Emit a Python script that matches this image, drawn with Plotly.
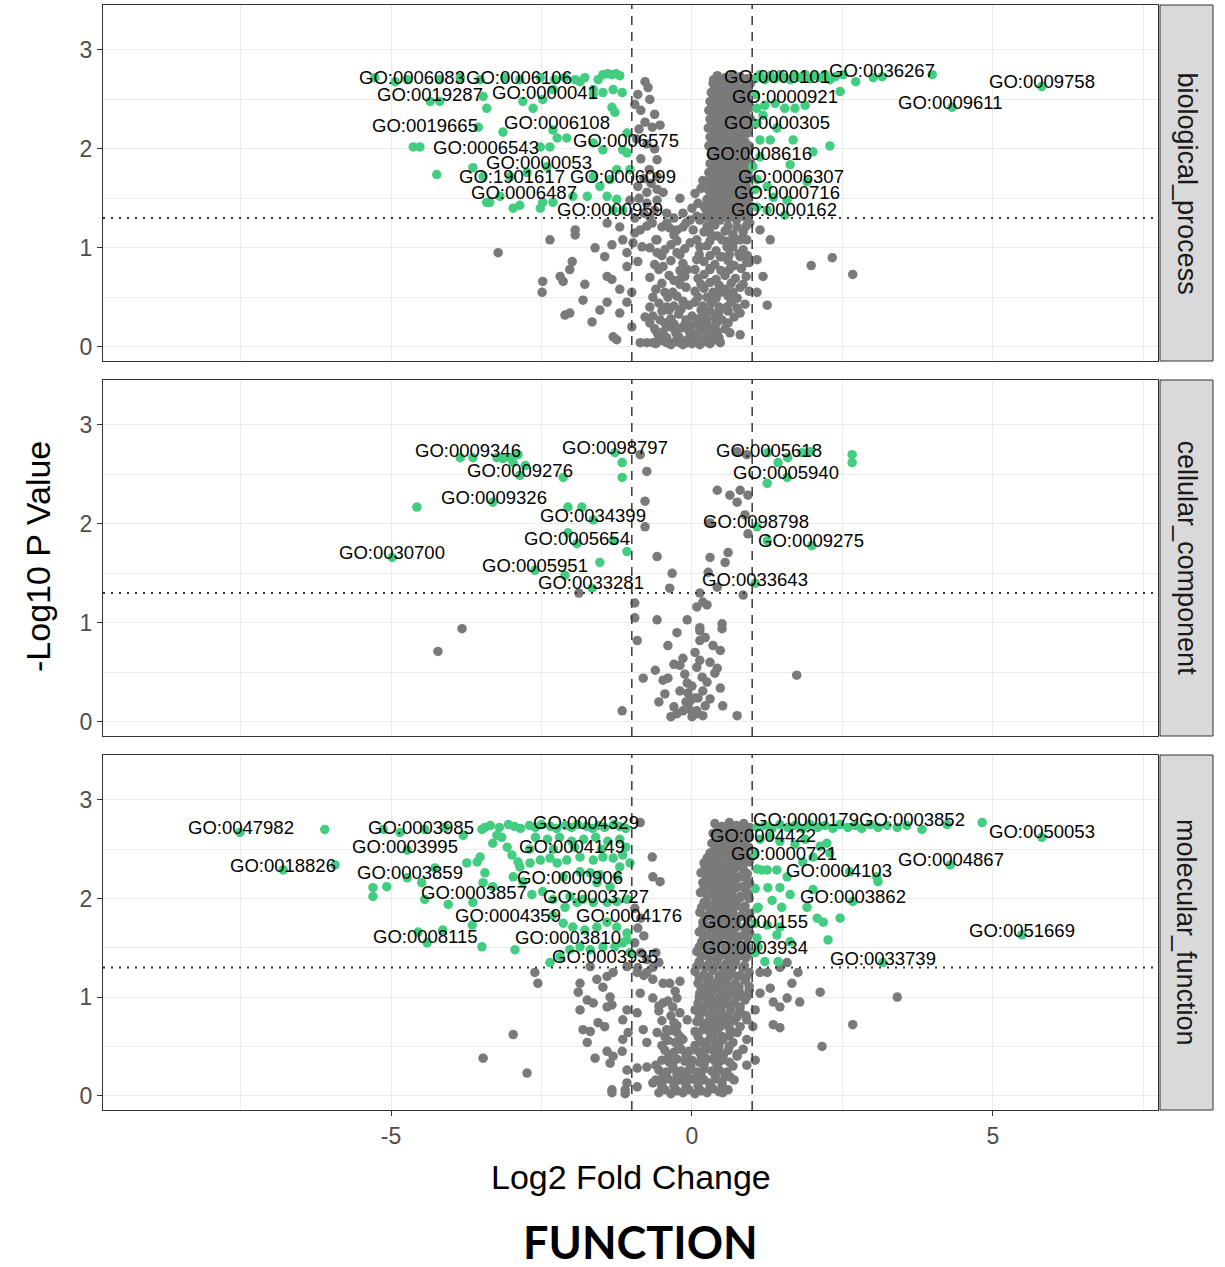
import math
import plotly.graph_objects as go

# ---------------------------------------------------------------
# GO term enrichment volcano data: (log2 fold change, -log10 p)
# ---------------------------------------------------------------

# biological_process
bp_gray = [
    (-3.22, 0.95), (-2.36, 1.08), (-1.94, 1.18), (-1.94, 1.13), (-2.48, 0.66), (-2.49, 0.55),
    (-2.19, 0.71), (-2.14, 0.66), (-2.03, 0.78), (-1.99, 0.86), (-1.78, 0.63), (-1.81, 0.47),
    (-2.11, 0.32), (-2.03, 0.34), (-1.66, 0.25), (-1.53, 0.37), (-1.41, 0.45), (-1.61, 1.00),
    (-1.45, 0.91), (-1.33, 1.03), (-1.41, 0.71), (-1.33, 0.68), (-1.20, 0.58), (-1.08, 0.45),
    (-1.20, 0.34), (-1.31, 0.10), (-1.25, 0.07), (-1.41, 1.25), (-1.20, 1.21), (-1.15, 1.08),
    (-1.08, 0.95), (-1.08, 0.81), (-0.98, 1.05), (-1.00, 0.55), (-1.00, 0.20), (-1.03, 1.48),
    (-0.78, 2.68), (-0.73, 2.62), (-0.85, 2.39), (-0.78, 2.27), (-0.66, 2.22), (-0.53, 2.24),
    (-0.58, 1.89), (-0.71, 1.79), (-0.58, 1.72), (-0.75, 1.45), (-0.58, 1.48), (-0.48, 1.56),
    (-0.70, 1.31), (-0.86, 1.18), (-0.42, 1.25), (-0.25, 1.18), (-0.15, 1.21), (-0.03, 1.28),
    (-0.75, 1.56), (-0.58, 1.59), (-0.66, 1.25), (-0.50, 1.21), (-0.37, 1.20), (-0.42, 1.35),
    (-0.90, 1.62), (-0.80, 1.70), (-0.92, 2.10), (-0.95, 2.45),
    (-0.90, 2.55), (-0.70, 2.50), (-0.62, 2.35), (-0.88, 2.20), (-0.75, 2.05), (-0.62, 2.00),
    (-0.85, 1.90), (-0.68, 1.65), (-0.88, 1.50), (-0.62, 1.38), (-0.80, 1.35), (-0.95, 1.30),
    (-0.30, 1.30), (-0.15, 1.35), (0.00, 1.40), (0.10, 1.45), (-0.20, 1.50), (0.05, 1.55),
    (0.15, 1.60), (-0.10, 1.25), (0.20, 1.42), (0.18, 1.68), (0.08, 1.32),
    (-0.86, 0.04), (-0.75, 0.04), (-0.65, 0.04), (-0.78, 0.30), (-0.70, 0.40), (-0.83, 1.01),
    (-0.58, 1.08), (-0.58, 0.95), (-0.48, 0.81), (-0.25, 0.95), (-0.20, 0.68), (-0.32, 0.55),
    (-0.42, 0.40), (-0.53, 0.27), (-0.58, 0.14), (-0.42, 0.04), (-0.20, 0.04), (-0.08, 0.07),
    (0.02, 0.10), (0.13, 0.20), (0.25, 0.27), (0.35, 0.20), (0.47, 0.04), (0.63, 0.14),
    (0.80, 0.12), (0.58, 0.40), (0.75, 0.39), (0.47, 0.55), (0.68, 0.55), (1.08, 0.55),
    (1.25, 0.42), (1.18, 0.71), (1.08, 0.88), (0.91, 0.85), (0.80, 0.91), (0.75, 1.08),
    (0.91, 1.08), (1.30, 1.08), (1.13, 1.18), (0.96, 1.25), (0.30, 1.15), (0.47, 0.91),
    (0.30, 0.78), (0.08, 0.88), (-0.08, 0.78), (-0.03, 1.05), (0.13, 1.01), (0.02, 1.18),
    (0.13, 1.28), (0.35, 1.35), (0.35, 1.52), (0.30, 1.62), (0.35, 1.69), (0.51, 1.45),
    (0.47, 1.28), (0.58, 1.35), (0.58, 1.01), (1.98, 0.82), (2.33, 0.90), (2.67, 0.73),
    (-0.60, 0.03), (-0.50, 0.06), (-0.35, 0.02), (-0.28, 0.05), (-0.15, 0.02), (-0.08, 0.04),
    (0.00, 0.03), (0.07, 0.06), (0.13, 0.02), (0.22, 0.05), (0.30, 0.03), (0.38, 0.07),
    (-0.55, 0.10), (-0.42, 0.09), (-0.22, 0.10), (-0.02, 0.09), (0.10, 0.10), (0.25, 0.11),
    (0.45, 0.09),
    (-0.62, 0.18), (-0.48, 0.15), (-0.36, 0.20), (-0.27, 0.14), (-0.17, 0.19), (-0.05, 0.16),
    (0.06, 0.13), (0.18, 0.17), (0.30, 0.12), (0.42, 0.15), (0.55, 0.18),
    (-0.70, 0.24), (-0.45, 0.24), (-0.30, 0.23), (-0.12, 0.22), (0.00, 0.22), (0.12, 0.25),
    (0.25, 0.21), (0.40, 0.23), (0.60, 0.24),
    (-0.65, 0.31), (-0.35, 0.28), (-0.22, 0.33), (-0.10, 0.27), (0.00, 0.31), (0.10, 0.28),
    (0.20, 0.34), (0.38, 0.30), (0.50, 0.27), (0.70, 0.30),
    (-0.50, 0.36), (-0.38, 0.37), (-0.18, 0.38), (0.15, 0.37), (0.30, 0.36), (0.45, 0.35),
    (0.60, 0.36), (0.80, 0.34),
    (-0.55, 0.44), (-0.30, 0.41), (-0.15, 0.46), (-0.05, 0.42), (0.05, 0.45), (0.18, 0.41),
    (0.32, 0.44), (0.45, 0.40), (0.65, 0.45), (0.88, 0.43),
    (-0.65, 0.50), (-0.40, 0.50), (-0.25, 0.51), (0.10, 0.50), (0.25, 0.50), (0.40, 0.49),
    (0.60, 0.51), (0.75, 0.49),
    (-0.60, 0.58), (-0.45, 0.55), (-0.10, 0.60), (0.05, 0.56), (0.20, 0.59), (0.35, 0.55),
    (0.55, 0.58), (0.80, 0.60), (0.95, 0.56),
    (-0.50, 0.64), (-0.20, 0.63), (0.15, 0.63), (0.30, 0.65), (0.45, 0.62), (0.65, 0.64),
    (0.85, 0.63),
    (-0.70, 0.70), (-0.38, 0.72), (-0.30, 0.67), (-0.12, 0.71), (0.10, 0.69), (0.20, 0.73),
    (0.40, 0.68), (0.55, 0.72), (0.72, 0.69), (0.90, 0.71),
    (-0.55, 0.78), (-0.20, 0.77), (0.05, 0.78), (0.30, 0.79), (0.48, 0.77), (0.62, 0.78),
    (0.82, 0.79),
    (-0.90, 0.86), (-0.62, 0.83), (-0.35, 0.87), (-0.15, 0.84), (0.20, 0.86), (0.38, 0.83),
    (0.60, 0.87), (0.70, 0.82), (0.95, 0.85),
    (-0.50, 0.92), (-0.20, 0.93), (0.12, 0.93), (0.30, 0.92), (0.50, 0.91), (0.62, 0.93),
    (0.78, 0.94), (0.92, 0.92),
    (-0.70, 1.00), (-0.45, 0.98), (-0.35, 1.03), (-0.12, 0.99), (0.25, 1.02), (0.40, 0.97),
    (0.68, 1.01), (0.85, 0.98),
    (-0.60, 1.08), (-0.25, 1.07), (0.08, 1.08), (0.30, 1.07), (0.50, 1.08), (0.62, 1.07),
    (0.80, 1.08),
    (-0.95, 1.15), (-0.30, 1.13), (0.20, 1.16), (0.42, 1.12), (0.55, 1.17), (0.68, 1.14),
    (0.85, 1.16),
    (-0.75, 1.22), (0.25, 1.22), (0.38, 1.23), (0.60, 1.22), (0.75, 1.21), (0.90, 1.22),
    (0.42, 2.74), (0.55, 2.72), (0.68, 2.75), (0.80, 2.73), (0.92, 2.71),
    (0.36, 2.70), (0.49, 2.69), (0.62, 2.70), (0.74, 2.69), (0.86, 2.70), (0.97, 2.71),
    (0.35, 2.66), (0.48, 2.64), (0.60, 2.67), (0.72, 2.65), (0.85, 2.62), (0.97, 2.66),
    (0.38, 2.61), (0.50, 2.60), (0.63, 2.61), (0.77, 2.60), (0.90, 2.61),
    (0.32, 2.57), (0.45, 2.55), (0.56, 2.58), (0.70, 2.56), (0.83, 2.54), (0.95, 2.57),
    (0.36, 2.52), (0.50, 2.51), (0.62, 2.52), (0.76, 2.51), (0.88, 2.52),
    (0.30, 2.48), (0.42, 2.46), (0.55, 2.49), (0.66, 2.47), (0.80, 2.45), (0.93, 2.48),
    (0.34, 2.43), (0.46, 2.42), (0.60, 2.43), (0.72, 2.42), (0.85, 2.43), (0.97, 2.42),
    (0.28, 2.39), (0.40, 2.37), (0.52, 2.40), (0.64, 2.38), (0.77, 2.36), (0.90, 2.39),
    (0.36, 2.34), (0.50, 2.33), (0.63, 2.34), (0.77, 2.33), (0.90, 2.34),
    (0.30, 2.30), (0.43, 2.28), (0.56, 2.31), (0.70, 2.29), (0.84, 2.27), (0.97, 2.30),
    (0.33, 2.25), (0.46, 2.24), (0.58, 2.25), (0.72, 2.24), (0.84, 2.25), (0.96, 2.24),
    (0.27, 2.21), (0.40, 2.19), (0.52, 2.22), (0.65, 2.20), (0.78, 2.18), (0.90, 2.21),
    (0.37, 2.16), (0.51, 2.15), (0.65, 2.16), (0.79, 2.15), (0.92, 2.16),
    (0.30, 2.12), (0.45, 2.10), (0.58, 2.13), (0.72, 2.11), (0.86, 2.09),
    (0.35, 2.07), (0.48, 2.06), (0.62, 2.07), (0.74, 2.06), (0.88, 2.07),
    (0.28, 2.03), (0.42, 2.01), (0.55, 2.04), (0.68, 2.02), (0.80, 2.00), (0.95, 2.03),
    (0.38, 1.98), (0.52, 1.97), (0.67, 1.98), (0.80, 1.97), (0.94, 1.98),
    (0.32, 1.94), (0.46, 1.92), (0.60, 1.95), (0.74, 1.93), (0.88, 1.91),
    (0.36, 1.89), (0.48, 1.88), (0.62, 1.89), (0.77, 1.88), (0.91, 1.89),
    (0.30, 1.85), (0.42, 1.83), (0.55, 1.86), (0.70, 1.84), (0.84, 1.82), (0.98, 1.85),
    (0.34, 1.80), (0.47, 1.79), (0.60, 1.80), (0.74, 1.79), (0.87, 1.80),
    (0.28, 1.76), (0.40, 1.74), (0.54, 1.77), (0.67, 1.75), (0.80, 1.73), (0.93, 1.76),
    (0.31, 1.71), (0.44, 1.70), (0.57, 1.71), (0.70, 1.70), (0.84, 1.71), (0.96, 1.70),
    (0.25, 1.67), (0.38, 1.65), (0.50, 1.68), (0.63, 1.66), (0.77, 1.64), (0.90, 1.67),
    (0.35, 1.62), (0.48, 1.61), (0.62, 1.62), (0.77, 1.61), (0.90, 1.62),
    (0.28, 1.58), (0.42, 1.56), (0.55, 1.59), (0.70, 1.57), (0.85, 1.55), (0.97, 1.58),
    (0.32, 1.53), (0.46, 1.52), (0.59, 1.53), (0.73, 1.52), (0.86, 1.53),
    (0.25, 1.49), (0.40, 1.47), (0.52, 1.50), (0.66, 1.48), (0.80, 1.46), (0.92, 1.49),
    (0.29, 1.44), (0.43, 1.43), (0.57, 1.44), (0.71, 1.43), (0.84, 1.44), (0.96, 1.43),
    (0.22, 1.40), (0.36, 1.38), (0.50, 1.41), (0.64, 1.39), (0.78, 1.37), (0.90, 1.40),
    (0.27, 1.35), (0.40, 1.34), (0.54, 1.35), (0.67, 1.34), (0.81, 1.35), (0.94, 1.34),
    (0.20, 1.31), (0.33, 1.29), (0.47, 1.32), (0.60, 1.30), (0.74, 1.28), (0.88, 1.31),
]
bp_green = [
    (-1.48, 2.75), (-1.40, 2.76), (-1.33, 2.75), (-1.26, 2.76), (-1.20, 2.74), (-1.56, 2.70),
    (-1.78, 2.72), (-1.94, 2.70), (-2.11, 2.72), (-2.28, 2.70), (-2.52, 2.72), (-2.86, 2.70),
    (-3.11, 2.72), (-3.52, 2.70), (-3.85, 2.72), (-4.19, 2.70), (-4.73, 2.70), (-4.93, 2.68),
    (-5.27, 2.72), (-4.35, 2.48), (-4.19, 2.48), (-3.47, 2.53), (-3.41, 2.41), (-2.81, 2.48),
    (-2.64, 2.41), (-2.48, 2.50), (-2.31, 2.60), (-1.86, 2.68), (-1.64, 2.60), (-1.64, 2.55),
    (-1.48, 2.57), (-1.31, 2.60), (-1.16, 2.57), (-1.33, 2.42), (-1.28, 2.37),
    (-2.31, 2.19), (-2.24, 2.11), (-2.08, 2.11), (-3.14, 2.17), (-3.55, 2.22), (-4.63, 2.02),
    (-4.52, 2.02), (-4.24, 1.74), (-2.52, 2.02), (-2.36, 2.02), (-1.64, 2.06), (-1.48, 1.99),
    (-1.08, 2.16), (-1.15, 1.99), (-1.08, 1.96),
    (-3.64, 1.81), (-3.47, 1.72), (-3.02, 1.72), (-2.74, 1.76), (-2.41, 1.82), (-1.64, 1.72),
    (-1.53, 1.62), (-1.36, 1.69), (-1.25, 1.79), (-1.03, 1.79),
    (-3.41, 1.46), (-2.97, 1.40), (-2.86, 1.43), (-2.52, 1.40), (-2.48, 1.46), (-2.31, 1.46),
    (-1.74, 1.52), (-1.98, 1.52), (-1.41, 1.52), (-1.25, 1.49), (-1.15, 1.38), (-1.31, 1.38),
    (-3.19, 1.52), (-3.36, 1.46),
    (1.08, 2.72), (1.13, 2.75), (1.21, 2.70), (1.30, 2.74), (1.38, 2.71), (1.46, 2.75),
    (1.54, 2.72), (1.63, 2.70), (1.71, 2.74), (1.79, 2.72), (1.88, 2.75), (1.96, 2.71),
    (2.04, 2.74), (2.13, 2.72), (2.21, 2.75), (2.29, 2.70), (2.38, 2.73), (2.46, 2.58),
    (2.51, 2.75), (2.72, 2.68), (3.01, 2.72), (3.16, 2.73), (3.99, 2.75), (5.81, 2.63),
    (4.32, 2.42), (1.08, 2.41), (1.21, 2.44), (1.38, 2.46), (1.54, 2.41), (1.71, 2.41),
    (1.88, 2.44), (1.41, 2.21), (1.30, 2.09), (1.13, 2.09), (1.68, 2.09), (2.01, 1.97),
    (2.29, 2.03), (1.63, 1.84), (1.91, 1.67), (1.25, 1.62), (1.35, 1.51), (1.58, 1.48),
    (1.08, 1.41), (1.25, 1.38), (1.54, 1.33), (1.08, 1.69), (1.13, 1.92), (1.01, 1.82),
    (1.18, 2.34), (1.08, 2.26), (1.05, 2.55), (1.05, 1.59),
]

# cellular_component
cc_gray = [
    (-0.86, 2.70), (-0.75, 2.53), (-0.78, 2.23), (-0.78, 1.97), (-0.58, 1.67), (-0.33, 1.50),
    (-0.37, 1.35), (-1.88, 1.30), (-3.82, 0.94), (-4.22, 0.71), (-0.95, 1.20), (-0.95, 1.05),
    (-0.58, 1.03), (-0.08, 1.03), (-0.25, 0.90), (-0.40, 0.77), (-0.91, 0.82), (-0.20, 0.57),
    (-0.61, 0.52), (-0.81, 0.44), (-0.48, 0.42), (-0.40, 0.44), (-0.45, 0.28), (-0.08, 0.39),
    (0.08, 0.55), (-0.07, 0.29), (-0.03, 0.21), (-1.16, 0.11), (-0.25, 0.08), (-0.15, 0.11),
    (0.13, 0.95), (0.13, 0.82), (0.10, 0.24), (0.08, 0.11), (0.18, 1.21),
    (0.75, 2.73), (0.91, 2.70), (0.42, 2.34), (0.63, 2.29), (0.80, 2.34), (0.75, 2.22),
    (0.93, 2.29), (0.88, 2.09), (0.93, 1.90), (0.30, 2.01), (0.60, 1.71), (0.30, 1.66),
    (0.55, 1.61), (0.27, 1.51), (0.42, 1.36), (0.85, 1.28), (0.13, 1.30), (0.25, 1.18),
    (0.08, 1.16), (0.50, 0.99), (0.50, 0.94), (0.13, 0.92), (0.22, 0.85), (0.35, 0.77),
    (0.47, 0.72), (0.13, 0.62), (0.42, 0.54), (0.38, 0.49), (0.17, 0.45), (0.47, 0.34),
    (0.18, 0.31), (0.30, 0.23), (0.51, 0.16), (0.75, 0.06), (1.74, 0.47), (0.05, 0.24),
    (0.08, 0.08), (0.18, 0.06), (-0.30, 0.15), (-0.10, 0.20), (0.00, 0.36), (-0.20, 0.31),
    (0.22, 0.16), (-0.35, 0.05), (0.00, 0.05), (0.25, 0.40), (-0.15, 0.64), (0.05, 0.70),
    (-0.55, 0.20), (-0.30, 0.58), (-0.12, 0.48), (0.30, 0.60), (-0.05, 0.13),
]
cc_green = [
    (-3.85, 2.67), (-3.64, 2.67), (-3.24, 2.67), (-3.14, 2.66), (-3.02, 2.67), (-2.89, 2.70),
    (-2.97, 2.62), (-2.77, 2.59), (-2.86, 2.49), (-2.14, 2.47), (-1.28, 2.72), (-1.16, 2.62),
    (-1.16, 2.47), (-4.57, 2.17), (-3.31, 2.22), (-2.06, 2.17), (-1.83, 2.17), (-1.64, 2.04),
    (-2.06, 1.91), (-1.91, 1.80), (-1.31, 1.83), (-1.08, 1.72), (-1.53, 1.61), (-4.98, 1.66),
    (-2.61, 1.53), (-2.11, 1.48), (-1.66, 1.35),
    (1.26, 2.72), (1.43, 2.62), (1.59, 2.67), (1.83, 2.72), (1.96, 2.73), (1.58, 2.47),
    (1.25, 2.41), (2.66, 2.70), (2.66, 2.62), (1.08, 1.97), (1.25, 1.83), (1.99, 1.78),
    (1.05, 1.40),
]

# molecular_function
mf_gray = [
    (-2.61, 1.25), (-2.56, 1.14), (-1.89, 1.05), (-1.86, 0.87), (-1.74, 0.97), (-1.64, 0.94),
    (-1.56, 0.74), (-1.81, 0.67), (-1.69, 0.65), (-1.45, 0.70), (-1.74, 0.54), (-1.61, 0.38),
    (-2.97, 0.62), (-3.47, 0.38), (-2.74, 0.23), (-1.33, 0.06), (-1.33, 0.03), (-1.11, 0.06),
    (-1.11, 0.02), (-1.08, 0.13), (-1.41, 0.45), (-1.31, 0.40), (-1.16, 0.45), (-1.36, 0.33),
    (-1.08, 0.26), (-0.91, 0.28), (-0.75, 0.29), (-0.91, 0.09), (-0.65, 0.13), (-1.86, 1.14),
    (-1.58, 1.18), (-1.41, 1.21), (-1.31, 1.25), (-1.08, 1.31), (-1.69, 1.31), (-1.48, 1.10),
    (-1.36, 1.00), (-1.41, 0.90), (-1.33, 0.92), (-1.15, 0.77), (-1.08, 0.87), (-1.15, 0.57),
    (-1.06, 0.64), (-0.91, 0.84), (-0.86, 1.04), (-0.91, 1.25), (-0.75, 1.25), (-0.65, 1.18),
    (-0.48, 1.14), (-0.37, 1.14), (-0.81, 0.67), (-0.75, 0.54), (-0.58, 0.64), (-0.42, 0.67),
    (-0.25, 0.64), (-0.20, 0.60), (-0.08, 0.77), (-0.48, 0.94), (-0.32, 0.90), (-0.25, 0.99),
    (-0.65, 0.99), (0.13, 1.04), (0.13, 0.84), (0.08, 0.75), (0.30, 0.80), (0.47, 0.70),
    (0.63, 0.67), (0.75, 0.64), (0.91, 0.57), (0.85, 0.47), (0.68, 0.54), (0.75, 0.40),
    (0.63, 0.19), (0.51, 0.03), (0.91, 0.31), (1.05, 0.36), (1.01, 0.70), (1.05, 0.87),
    (0.91, 0.77), (1.13, 1.04), (1.30, 1.09), (1.25, 1.25), (1.46, 1.30), (1.58, 1.35),
    (1.76, 1.25), (1.66, 1.14), (1.79, 0.95), (1.58, 0.99), (1.35, 0.95), (1.46, 0.90),
    (1.35, 0.72), (1.46, 0.69), (2.13, 1.05), (2.67, 0.72), (2.16, 0.50), (1.13, 1.25),
    (3.41, 1.00),
    (-0.86, 2.77), (-0.66, 2.42), (-0.65, 2.22), (-0.53, 2.17), (-0.95, 1.90), (-0.85, 1.80),
    (-0.90, 1.70), (-0.80, 1.62), (-0.95, 1.55), (-0.85, 1.45), (-0.75, 1.38), (-0.90, 1.30),
    (-0.80, 1.22), (-0.65, 1.30), (-0.60, 1.45), (-0.55, 1.35),
    (-0.55, 0.03), (-0.45, 0.06), (-0.35, 0.02), (-0.25, 0.05), (-0.15, 0.03), (-0.05, 0.06),
    (0.05, 0.02), (0.15, 0.05), (0.25, 0.03), (0.35, 0.07), (0.45, 0.04), (0.60, 0.06),
    (-0.50, 0.09), (-0.30, 0.10), (-0.10, 0.09), (0.10, 0.10), (0.30, 0.09), (0.50, 0.10),
    (-0.60, 0.16), (-0.50, 0.13), (-0.40, 0.17), (-0.30, 0.14), (-0.20, 0.16), (-0.10, 0.13),
    (0.00, 0.17), (0.10, 0.14), (0.20, 0.16), (0.30, 0.13), (0.40, 0.17), (0.50, 0.14),
    (0.70, 0.16),
    (-0.48, 0.21), (-0.25, 0.20), (-0.12, 0.21), (0.15, 0.20), (0.38, 0.21), (0.55, 0.20),
    (-0.55, 0.26), (-0.42, 0.24), (-0.30, 0.27), (-0.18, 0.25), (-0.05, 0.26), (0.08, 0.24),
    (0.20, 0.27), (0.33, 0.25), (0.45, 0.26), (0.58, 0.24),
    (-0.60, 0.31), (-0.32, 0.30), (-0.02, 0.30), (0.20, 0.31), (0.42, 0.30), (0.68, 0.30),
    (-0.50, 0.36), (-0.38, 0.34), (-0.25, 0.37), (-0.12, 0.35), (0.00, 0.36), (0.12, 0.34),
    (0.25, 0.37), (0.38, 0.35), (0.50, 0.36), (0.62, 0.34),
    (-0.38, 0.41), (-0.10, 0.40), (0.15, 0.41), (0.38, 0.40), (0.52, 0.41), (0.75, 0.42),
    (-0.45, 0.46), (-0.30, 0.44), (-0.18, 0.47), (-0.05, 0.45), (0.08, 0.46), (0.20, 0.44),
    (0.32, 0.47), (0.45, 0.45), (0.60, 0.46),
    (-0.50, 0.51), (-0.22, 0.50), (0.05, 0.51), (0.22, 0.50), (0.45, 0.51), (0.62, 0.50),
    (-0.40, 0.56), (-0.28, 0.54), (-0.15, 0.57), (0.15, 0.55), (0.28, 0.56), (0.40, 0.54),
    (0.52, 0.57),
    (-0.45, 0.60), (0.10, 0.60), (0.35, 0.61), (0.50, 0.60), (0.62, 0.61),
    (-0.35, 0.66), (0.05, 0.65), (0.18, 0.67), (0.30, 0.64), (0.42, 0.66),
    (-0.25, 0.71), (0.20, 0.70), (0.35, 0.71), (0.60, 0.71), (0.80, 0.70),
    (-0.50, 0.76), (-0.30, 0.74), (0.12, 0.76), (0.25, 0.74), (0.40, 0.77), (0.55, 0.75),
    (0.70, 0.76),
    (-0.35, 0.81), (0.12, 0.80), (0.30, 0.81), (0.45, 0.80), (0.60, 0.81), (0.75, 0.80),
    (0.90, 0.81),
    (-0.55, 0.86), (-0.20, 0.84), (0.05, 0.87), (0.20, 0.85), (0.35, 0.86), (0.50, 0.84),
    (0.65, 0.87), (0.80, 0.85),
    (-0.55, 0.91), (0.18, 0.90), (0.32, 0.91), (0.48, 0.90), (0.62, 0.91), (0.80, 0.90),
    (-0.40, 0.96), (0.10, 0.94), (0.25, 0.97), (0.40, 0.95), (0.55, 0.96), (0.70, 0.94),
    (0.88, 0.97),
    (0.12, 1.00), (0.30, 1.01), (0.45, 1.00), (0.60, 1.01), (0.75, 1.00), (0.92, 1.01),
    (-0.28, 1.06), (0.20, 1.04), (0.35, 1.07), (0.50, 1.05), (0.65, 1.06), (0.80, 1.04),
    (0.95, 1.07),
    (0.15, 1.10), (0.28, 1.11), (0.45, 1.10), (0.60, 1.11), (0.78, 1.10), (0.95, 1.11),
    (-0.20, 1.16), (0.10, 1.14), (0.25, 1.17), (0.40, 1.15), (0.55, 1.16), (0.72, 1.14),
    (0.88, 1.17),
    (0.12, 1.20), (0.28, 1.20), (0.45, 1.21), (0.60, 1.20), (0.75, 1.21), (0.90, 1.20),
    (0.38, 2.76), (0.50, 2.73), (0.62, 2.77), (0.74, 2.74), (0.86, 2.76), (0.96, 2.72),
    (0.44, 2.71), (0.56, 2.70), (0.68, 2.71), (0.80, 2.70), (0.92, 2.69),
    (0.35, 2.66), (0.47, 2.63), (0.60, 2.67), (0.72, 2.64), (0.84, 2.66), (0.95, 2.62),
    (0.41, 2.61), (0.53, 2.60), (0.66, 2.61), (0.78, 2.60), (0.90, 2.59),
    (0.33, 2.56), (0.45, 2.54), (0.57, 2.57), (0.70, 2.53), (0.82, 2.56), (0.94, 2.52),
    (0.39, 2.51), (0.51, 2.50), (0.63, 2.51), (0.76, 2.50), (0.88, 2.49),
    (0.30, 2.46), (0.42, 2.43), (0.55, 2.47), (0.68, 2.44), (0.80, 2.46), (0.92, 2.42),
    (0.25, 2.41), (0.36, 2.40), (0.49, 2.41), (0.62, 2.40), (0.74, 2.41), (0.86, 2.40),
    (0.97, 2.41),
    (0.20, 2.36), (0.32, 2.34), (0.45, 2.37), (0.58, 2.33), (0.70, 2.36), (0.83, 2.34),
    (0.95, 2.37),
    (0.22, 2.31), (0.34, 2.30), (0.47, 2.31), (0.60, 2.30), (0.72, 2.31), (0.85, 2.30),
    (0.15, 2.26), (0.28, 2.23), (0.40, 2.27), (0.53, 2.24), (0.66, 2.26), (0.78, 2.22),
    (0.92, 2.25),
    (0.24, 2.21), (0.36, 2.20), (0.49, 2.21), (0.62, 2.20), (0.76, 2.21), (0.90, 2.20),
    (0.18, 2.16), (0.30, 2.13), (0.43, 2.17), (0.56, 2.14), (0.70, 2.16), (0.83, 2.12),
    (0.96, 2.15),
    (0.20, 2.11), (0.34, 2.10), (0.47, 2.11), (0.60, 2.10), (0.74, 2.11), (0.88, 2.10),
    (0.14, 2.06), (0.27, 2.03), (0.40, 2.07), (0.53, 2.04), (0.66, 2.06), (0.80, 2.02),
    (0.93, 2.05),
    (0.26, 2.01), (0.40, 2.00), (0.54, 2.01), (0.67, 2.00), (0.81, 2.01), (0.95, 2.00),
    (0.20, 1.96), (0.33, 1.93), (0.47, 1.97), (0.60, 1.94), (0.74, 1.96), (0.88, 1.92),
    (0.16, 1.91), (0.30, 1.90), (0.44, 1.91), (0.57, 1.90), (0.70, 1.91), (0.84, 1.90),
    (0.13, 1.86), (0.26, 1.83), (0.40, 1.87), (0.54, 1.84), (0.68, 1.86), (0.82, 1.82),
    (0.96, 1.85),
    (0.22, 1.81), (0.36, 1.80), (0.50, 1.81), (0.64, 1.80), (0.78, 1.81), (0.92, 1.80),
    (0.18, 1.76), (0.32, 1.73), (0.46, 1.77), (0.60, 1.74), (0.74, 1.76), (0.90, 1.72),
    (0.18, 1.71), (0.32, 1.70), (0.46, 1.71), (0.60, 1.70), (0.74, 1.71), (0.88, 1.70),
    (0.12, 1.66), (0.25, 1.63), (0.40, 1.67), (0.54, 1.64), (0.68, 1.66), (0.83, 1.62),
    (0.96, 1.65),
    (0.20, 1.61), (0.34, 1.60), (0.48, 1.61), (0.62, 1.60), (0.76, 1.61), (0.92, 1.60),
    (0.16, 1.56), (0.30, 1.53), (0.45, 1.57), (0.60, 1.54), (0.75, 1.56), (0.90, 1.52),
    (0.12, 1.51), (0.26, 1.50), (0.40, 1.51), (0.55, 1.50), (0.70, 1.51), (0.85, 1.50),
    (0.08, 1.46), (0.22, 1.43), (0.37, 1.47), (0.52, 1.44), (0.67, 1.46), (0.82, 1.42),
    (0.96, 1.45),
    (0.16, 1.41), (0.30, 1.40), (0.45, 1.41), (0.60, 1.40), (0.75, 1.41), (0.90, 1.40),
    (0.12, 1.36), (0.27, 1.33), (0.42, 1.37), (0.57, 1.34), (0.72, 1.36), (0.87, 1.32),
    (0.08, 1.31), (0.22, 1.30), (0.38, 1.31), (0.52, 1.30), (0.68, 1.31), (0.84, 1.30),
    (0.05, 1.26), (0.20, 1.23), (0.35, 1.27), (0.50, 1.24), (0.65, 1.26), (0.80, 1.22),
    (0.95, 1.25),
]
mf_green = [
    (-7.51, 2.67), (-6.10, 2.70), (-6.79, 2.29), (-5.93, 2.34), (-5.30, 2.11), (-5.30, 2.02),
    (-5.07, 2.12), (-4.73, 2.49), (-4.73, 2.21), (-4.49, 2.16), (-4.27, 2.31), (-4.44, 1.99),
    (-4.05, 1.94), (-4.55, 1.66), (-4.40, 1.55), (-4.14, 1.68), (-3.65, 1.73), (-3.64, 1.96),
    (-3.49, 1.51), (-3.44, 2.26), (-3.74, 2.36), (-3.57, 2.37), (-3.52, 2.42), (-3.80, 2.64),
    (-3.49, 2.70), (-3.44, 2.72), (-5.13, 2.70), (-4.85, 2.67), (-4.44, 2.70), (-4.10, 2.72),
    (-3.35, 2.74), (-3.20, 2.72), (-3.05, 2.75), (-2.95, 2.73), (-2.85, 2.71), (-2.70, 2.74),
    (-2.60, 2.72), (-2.50, 2.75), (-2.35, 2.73), (-2.25, 2.71), (-2.10, 2.74), (-2.00, 2.72),
    (-1.90, 2.75), (-1.75, 2.73), (-1.65, 2.71), (-1.55, 2.74), (-1.45, 2.72), (-1.30, 2.75),
    (-1.20, 2.73), (-1.10, 2.71),
    (-3.24, 2.64), (-3.16, 2.62), (-3.31, 2.56), (-3.07, 2.52), (-2.99, 2.44), (-2.89, 2.37),
    (-2.86, 2.32), (-2.69, 2.36), (-2.52, 2.39), (-2.36, 2.41), (-2.24, 2.36), (-2.08, 2.39),
    (-1.86, 2.42), (-1.64, 2.39), (-1.48, 2.42), (-1.31, 2.41), (-1.15, 2.44), (-1.03, 2.36),
    (-1.20, 2.32), (-1.86, 2.27), (-1.69, 2.26), (-1.53, 2.24), (-1.25, 2.22), (-2.14, 2.22),
    (-3.47, 2.16), (-3.31, 2.12), (-2.97, 2.22), (-2.81, 2.17), (-2.66, 2.04), (-2.48, 2.07),
    (-2.31, 1.99), (-2.03, 2.02), (-1.91, 1.96), (-1.81, 1.99), (-1.64, 1.96), (-1.41, 1.96),
    (-1.25, 1.97), (-1.08, 1.99), (-1.58, 2.16), (-1.36, 2.12), (-2.11, 1.91), (-2.31, 1.83),
    (-2.14, 1.75), (-1.98, 1.71), (-1.78, 1.68), (-1.58, 1.71), (-1.41, 1.76), (-1.25, 1.71),
    (-1.08, 1.65), (-1.15, 1.55), (-1.28, 1.51), (-1.48, 1.51), (-1.69, 1.48), (-1.86, 1.51),
    (-2.03, 1.48), (-2.19, 1.41), (-2.36, 1.35), (-2.94, 1.48), (-1.03, 1.45), (-1.08, 1.58),
    (-2.60, 2.62), (-2.40, 2.60), (-2.20, 2.62), (-2.00, 2.58), (-1.80, 2.60), (-1.60, 2.62),
    (-1.40, 2.58), (-1.20, 2.60), (-2.70, 2.50), (-2.30, 2.50), (-1.95, 2.52), (-1.50, 2.50),
    (-1.10, 2.52),
    (1.08, 2.72), (1.21, 2.74), (1.33, 2.71), (1.46, 2.75), (1.59, 2.72), (1.71, 2.74),
    (1.84, 2.71), (1.96, 2.75), (2.09, 2.72), (2.21, 2.74), (2.34, 2.71), (2.46, 2.75),
    (2.59, 2.72), (2.71, 2.74), (2.82, 2.71), (2.96, 2.75), (3.09, 2.72), (3.24, 2.74),
    (3.41, 2.72), (3.57, 2.74), (3.82, 2.70), (4.24, 2.75),
    (4.82, 2.77), (5.81, 2.62), (4.29, 2.34), (5.48, 1.63), (3.17, 1.35), (3.07, 2.22),
    (3.09, 2.17), (2.24, 2.56), (2.29, 2.46), (2.01, 2.42), (1.84, 2.37), (1.58, 2.22),
    (1.41, 2.29), (1.16, 2.29), (1.25, 2.29), (2.62, 2.27), (2.67, 1.97), (1.26, 2.11),
    (1.46, 2.11), (1.63, 2.04), (2.01, 2.09), (1.91, 1.91), (1.33, 1.98), (1.49, 1.91),
    (1.10, 1.91), (2.08, 1.80), (2.18, 1.76), (2.46, 1.80), (2.26, 1.58), (1.41, 1.63),
    (1.46, 1.71), (1.25, 1.73), (1.63, 1.56), (1.21, 1.36), (1.43, 1.36), (1.10, 1.51),
    (1.13, 2.60), (1.30, 2.63), (1.46, 2.58), (1.71, 2.55), (1.88, 2.60), (2.13, 2.53),
    (1.05, 2.45), (1.08, 2.30), (1.05, 2.10), (1.08, 1.90), (1.05, 1.75), (1.08, 1.60),
    (1.05, 1.45),
]

# GO term labels placed beside the significant points: (text, x, y)
bp_labels = [
    ("GO:0006083", -4.65, 2.72), ("GO:0006106", -2.87, 2.72), ("GO:0019287", -4.35, 2.55),
    ("GO:0000041", -2.44, 2.57), ("GO:0019665", -4.44, 2.24), ("GO:0006108", -2.24, 2.27),
    ("GO:0006543", -3.42, 2.01), ("GO:0006575", -1.10, 2.08), ("GO:0000053", -2.54, 1.86),
    ("GO:1901617", -2.99, 1.72), ("GO:0006099", -1.15, 1.72), ("GO:0006487", -2.79, 1.56),
    ("GO:0000959", -1.36, 1.39), ("GO:0000101", 1.41, 2.73), ("GO:0036267", 3.16, 2.79),
    ("GO:0009758", 5.81, 2.68), ("GO:0000921", 1.54, 2.53), ("GO:0009611", 4.30, 2.47),
    ("GO:0000305", 1.41, 2.27), ("GO:0008616", 1.11, 1.95), ("GO:0006307", 1.64, 1.72),
    ("GO:0000716", 1.58, 1.56), ("GO:0000162", 1.53, 1.39),
]
cc_labels = [
    ("GO:0009346", -3.72, 2.74), ("GO:0098797", -1.28, 2.77), ("GO:0009276", -2.86, 2.54),
    ("GO:0009326", -3.29, 2.27), ("GO:0034399", -1.64, 2.08), ("GO:0005654", -1.91, 1.85),
    ("GO:0030700", -4.98, 1.71), ("GO:0005951", -2.61, 1.58), ("GO:0033281", -1.68, 1.41),
    ("GO:0005618", 1.28, 2.74), ("GO:0005940", 1.56, 2.52), ("GO:0098798", 1.06, 2.02),
    ("GO:0009275", 1.98, 1.83), ("GO:0033643", 1.05, 1.44),
]
mf_labels = [
    ("GO:0047982", -7.49, 2.72), ("GO:0003985", -4.50, 2.72), ("GO:0004329", -1.76, 2.77),
    ("GO:0003995", -4.77, 2.53), ("GO:0004149", -1.99, 2.53), ("GO:0018826", -6.79, 2.33),
    ("GO:0003859", -4.68, 2.26), ("GO:0000906", -2.03, 2.21), ("GO:0003857", -3.62, 2.06),
    ("GO:0003727", -1.59, 2.02), ("GO:0004359", -3.06, 1.83), ("GO:0004176", -1.05, 1.83),
    ("GO:0008115", -4.42, 1.61), ("GO:0003810", -2.06, 1.60), ("GO:0003935", -1.45, 1.41),
    ("GO:0000179", 1.89, 2.80), ("GO:0003852", 3.65, 2.80), ("GO:0050053", 5.81, 2.68),
    ("GO:0004422", 1.18, 2.64), ("GO:0000721", 1.53, 2.46), ("GO:0004867", 4.30, 2.40),
    ("GO:0004103", 2.44, 2.28), ("GO:0003862", 2.67, 2.02), ("GO:0000155", 1.05, 1.77),
    ("GO:0051669", 5.48, 1.68), ("GO:0003934", 1.05, 1.50), ("GO:0033739", 3.17, 1.39),
]

facet_names = ["biological_process", "cellular_component", "molecular_function"]
fc_cutoff = 1.0
p_cutoff = 0.05
x_ticks = [-5, 0, 5]
y_ticks = [0, 1, 2, 3]

# ---------------------------------------------------------------
# layout geometry (pixels of the 1225 x 1267 page)
# ---------------------------------------------------------------
W, H = 1225, 1267
PLOT_L, PLOT_R = 103, 1158
STRIP_L, STRIP_R = 1160, 1213
PANELS_PX = [(5, 361), (380, 736), (755, 1110)]
X_RANGE = [-9.784, 7.741]
Y_RANGE = [-0.145, 3.455]

GREEN = "#43CD80"
GRAY = "#7A7A7A"
FONT = "Liberation Sans, Arial, Helvetica, sans-serif"
p_line = -math.log10(p_cutoff)

fig = go.Figure()
panels = [(bp_gray, bp_green, bp_labels), (cc_gray, cc_green, cc_labels), (mf_gray, mf_green, mf_labels)]

shapes = []
annotations = []
for i, (gray_pts, green_pts, labels) in enumerate(panels):
    sfx = "" if i == 0 else str(i + 1)
    xa, ya = "x" + sfx, "y" + sfx
    for pts, col in ((gray_pts, GRAY), (green_pts, GREEN)):
        fig.add_trace(go.Scatter(
            x=[p[0] for p in pts], y=[p[1] for p in pts], mode="markers",
            marker=dict(color=col, size=9.5, line=dict(width=0)),
            xaxis=xa, yaxis=ya, showlegend=False, hoverinfo="x+y"))

    top, bot = PANELS_PX[i]
    y0, y1 = 1 - bot / H, 1 - top / H
    show_x = i == 2
    fig.layout["xaxis" + sfx] = dict(
        domain=[PLOT_L / W, PLOT_R / W], range=X_RANGE, anchor=ya,
        tickmode="array", tickvals=x_ticks, ticktext=[str(v) for v in x_ticks],
        showticklabels=show_x, ticks="outside" if show_x else "", ticklen=5,
        tickcolor="#333333", tickwidth=1,
        tickfont=dict(family=FONT, size=23, color="#4D4D4D"),
        showgrid=True, gridcolor="#EBEBEB", gridwidth=1.1,
        minor=dict(tickmode="array", tickvals=[-7.5, -2.5, 2.5, 7.5], showgrid=True,
                   gridcolor="#EBEBEB", gridwidth=0.8, ticks=""),
        zeroline=False, showline=True, mirror=True, linecolor="#333333", linewidth=1,
        fixedrange=True)
    fig.layout["yaxis" + sfx] = dict(
        domain=[y0, y1], range=Y_RANGE, anchor=xa,
        tickmode="array", tickvals=y_ticks, ticktext=[str(v) for v in y_ticks],
        ticks="outside", ticklen=5, tickcolor="#333333", tickwidth=1,
        tickfont=dict(family=FONT, size=23, color="#4D4D4D"),
        showgrid=True, gridcolor="#EBEBEB", gridwidth=1.1,
        minor=dict(tickmode="array", tickvals=[0.5, 1.5, 2.5], showgrid=True,
                   gridcolor="#EBEBEB", gridwidth=0.8, ticks=""),
        zeroline=False, showline=True, mirror=True, linecolor="#333333", linewidth=1,
        fixedrange=True)

    # fold-change and p-value cut-off lines
    for xv in (-fc_cutoff, fc_cutoff):
        shapes.append(dict(type="line", xref=xa, yref=ya + " domain", x0=xv, x1=xv, y0=0, y1=1,
                           line=dict(color="#444444", width=1.6, dash="9px,7px"), layer="above"))
    shapes.append(dict(type="line", xref=xa + " domain", yref=ya, x0=0, x1=1, y0=p_line, y1=p_line,
                       line=dict(color="#333333", width=2, dash="2px,6px"), layer="above"))

    # facet strip
    shapes.append(dict(type="rect", xref="paper", yref="paper",
                       x0=STRIP_L / W, x1=STRIP_R / W, y0=y0, y1=y1,
                       fillcolor="#D9D9D9", line=dict(color="#333333", width=1), layer="below"))
    annotations.append(dict(text=facet_names[i], xref="paper", yref="paper",
                            x=(STRIP_L + STRIP_R) / 2 / W, y=(y0 + y1) / 2, textangle=90,
                            showarrow=False, xanchor="center", yanchor="middle",
                            font=dict(family=FONT, size=27, color="#1A1A1A")))

    for text, lx, ly in labels:
        annotations.append(dict(text=text, x=lx, y=ly, xref=xa, yref=ya, showarrow=False,
                                xanchor="center", yanchor="middle",
                                font=dict(family=FONT, size=18.5, color="#000000")))

annotations.append(dict(text="Log2 Fold Change", xref="paper", yref="paper",
                        x=(PLOT_L + PLOT_R) / 2 / W, y=1 - 1177 / H, showarrow=False,
                        xanchor="center", yanchor="middle",
                        font=dict(family=FONT, size=34, color="#000000")))
annotations.append(dict(text="-Log10 P Value", xref="paper", yref="paper",
                        x=38 / W, y=1 - 557 / H, textangle=-90, showarrow=False,
                        xanchor="center", yanchor="middle",
                        font=dict(family=FONT, size=34, color="#000000")))
annotations.append(dict(text="FUNCTION", xref="paper", yref="paper",
                        x=640 / W, y=1 - 1242 / H, showarrow=False,
                        xanchor="center", yanchor="middle",
                        font=dict(family="Lato, Open Sans, sans-serif", size=45,
                                  color="#000000", weight=700)))

fig.update_layout(
    width=W, height=H, margin=dict(l=0, r=0, t=0, b=0),
    paper_bgcolor="white", plot_bgcolor="white",
    shapes=shapes, annotations=annotations, showlegend=False)

fig.write_html("out.html", config={"displayModeBar": False})
